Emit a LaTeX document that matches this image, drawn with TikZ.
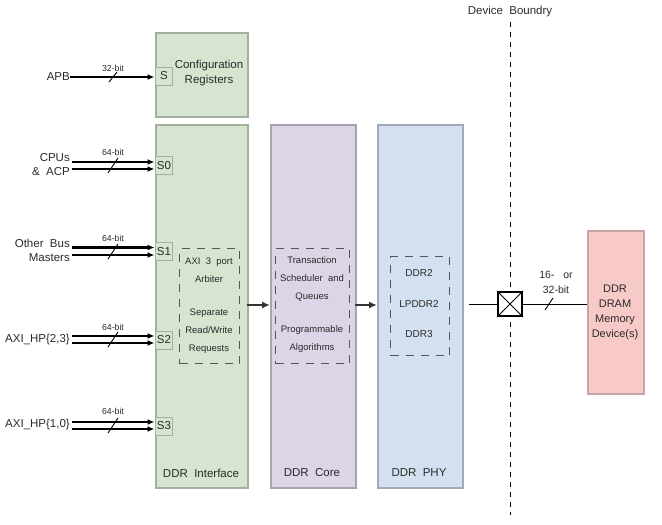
\documentclass[tikz,border=0pt]{standalone}
\usepackage{fontspec}
\setmainfont{Liberation Sans}
\usetikzlibrary{arrows.meta}
\definecolor{gfill}{HTML}{D6E4D0}\definecolor{gline}{HTML}{A2B19D}
\definecolor{pfill}{HTML}{DCD5E7}\definecolor{pline}{HTML}{AAA2B3}
\definecolor{bfill}{HTML}{D3E0EF}\definecolor{bline}{HTML}{A3AAB5}
\definecolor{rfill}{HTML}{F8CAC7}\definecolor{rline}{HTML}{C9A3A3}
\definecolor{txt}{HTML}{2A2A2A}
\tikzset{
  blk/.style={draw=#1, line width=1.6pt, anchor=north west, inner sep=0pt},
  port/.style={draw=gline, line width=1pt, fill=gfill, anchor=west, minimum width=17pt, minimum height=18pt, inner sep=0pt, font=\fontsize{11.5}{11}\selectfont, text=txt},
  bus/.style={line width=2.2pt, -{Latex[length=7pt,width=6pt]}, shorten >=0.5pt},
  lbl/.style={font=\fontsize{11.5}{14}\selectfont, text=txt, align=right, anchor=east, inner sep=0pt},
  bits/.style={font=\fontsize{8.7}{9}\selectfont, text=txt, inner sep=0pt},
  sl/.style={line width=0.9pt},
  inner/.style={draw=txt!80, line width=1.1pt, dash pattern=on 8pt off 7pt, anchor=north west, inner sep=0pt},
  itxt/.style={font=\fontsize{9.5}{18}\selectfont, text=txt, align=center, inner sep=0pt},
  title/.style={font=\fontsize{11.5}{12}\selectfont, text=txt, inner sep=0pt},
  conn/.style={line width=1.8pt, draw=black!80, -{Latex[length=8pt,width=7pt]}},
}
\begin{document}
\begin{tikzpicture}[x=1pt,y=-1pt]
\useasboundingbox (0,0) rectangle (662,525);
% main blocks
\node[blk=gline, fill=gfill, minimum width=92pt, minimum height=84pt] (cfg) at (155,32) {};
\node[blk=gline, fill=gfill, minimum width=92pt, minimum height=363pt] (ifc) at (155,124) {};
\node[blk=pline, fill=pfill, minimum width=85pt, minimum height=363pt] (core) at (270,124) {};
\node[blk=bline, fill=bfill, minimum width=85pt, minimum height=363pt] (phy) at (377,124) {};
\node[blk=rline, fill=rfill, minimum width=56pt, minimum height=163pt] (dram) at (587,230) {};
% texts
\node[align=center, font=\fontsize{11.5}{15}\selectfont, text=txt, inner sep=0pt] (cfgt) at (209,73) {Configuration\\Registers};
\node[title] (ifct) at (201,473) {DDR\ \ Interface};
\node[title] (coret) at (312,473) {DDR\ \ Core};
\node[title] (phyt) at (419,473) {DDR\ \ PHY};
\node[align=center, font=\fontsize{11}{15}\selectfont, text=txt, inner sep=0pt] (dramt) at (615,312) {DDR\\DRAM\\Memory\\Device(s)};
% inner dashed boxes
\node[inner, minimum width=60pt, minimum height=115pt] (ifcin) at (179,248) {};
\node[itxt] (ifcin1) at (209,270) {AXI\ \ 3\ \ port\\Arbiter};
\node[itxt] (ifcin2) at (209,331) {Separate\\Read/Write\\Requests};
\node[inner, minimum width=74pt, minimum height=115pt] (corein) at (275,248) {};
\node[itxt] (corein1) at (312,279) {Transaction\\Scheduler\ \ and\\Queues};
\node[itxt] (corein2) at (312,339) {Programmable\\Algorithms};
\node[inner, minimum width=59pt, minimum height=99pt] (phyin) at (390,256) {};
\node[font=\fontsize{10}{30.5}\selectfont, text=txt, align=center, inner sep=0pt] (phyint) at (419,304) {DDR2\\LPDDR2\\DDR3};
% ports
\node[port] (sP) at (155,76) {S};
\node[port] (s0) at (155,165.5) {S0};
\node[port] (s1) at (155,251.5) {S1};
\node[port] (s2) at (155,340) {S2};
\node[port] (s3) at (155,426) {S3};
% APB
\node[lbl] (apb) at (70,77) {APB};
\draw[bus] (apb.east) -- (apb.east -| sP.west);
\node[bits] (b0) at (113,68) {32-bit};
\draw[sl] (109,82) -- (117,72);
% CPUs
\node[lbl] (cpu) at (70,165) {CPUs\\\&\ \ ACP};
\coordinate (c0a) at (72,162); \coordinate (c0b) at (72,169);
\draw[bus] (c0a) -- (c0a -| s0.west);
\draw[bus] (c0b) -- (c0b -| s0.west);
\node[bits] (b1) at (113,152) {64-bit};
\draw[sl] (108,173) -- (118,158);
% Other bus masters
\node[lbl] (obm) at (70,250.5) {Other\ \ Bus\\Masters};
\coordinate (c1a) at (72,247.5); \coordinate (c1b) at (72,255);
\draw[bus] (c1a) -- (c1a -| s1.west);
\draw[bus] (c1b) -- (c1b -| s1.west);
\node[bits] (b2) at (113,238) {64-bit};
\draw[sl] (108,259) -- (118,244);
% AXI_HP{2,3}
\node[lbl] (hp23) at (70,340) {AXI\_HP\{2,3\}};
\coordinate (c2a) at (72,336); \coordinate (c2b) at (72,343);
\draw[bus] (c2a) -- (c2a -| s2.west);
\draw[bus] (c2b) -- (c2b -| s2.west);
\node[bits] (b3) at (113,327) {64-bit};
\draw[sl] (108,347) -- (118,332);
% AXI_HP{1,0}
\node[lbl] (hp10) at (70,425) {AXI\_HP\{1,0\}};
\coordinate (c3a) at (72,422); \coordinate (c3b) at (72,429);
\draw[bus] (c3a) -- (c3a -| s3.west);
\draw[bus] (c3b) -- (c3b -| s3.west);
\node[bits] (b4) at (113,411) {64-bit};
\draw[sl] (108,433) -- (118,418);
% block connectors
\coordinate (m1) at (247,305);
\draw[conn] (m1) -- (m1 -| core.west);
\coordinate (m2) at (355,305);
\draw[conn] (m2) -- (m2 -| phy.west);
% device boundary
\node[title] (dbt) at (510,12) {Device\ \ Boundry};
\coordinate (dbtop) at (510,22); \coordinate (dbbot) at (510,515);
\draw[line width=0.8pt, dash pattern=on 5pt off 5pt] (dbtop) -- (dbbot);
% crossed box
\node[draw, line width=2.2pt, fill=white, minimum width=24pt, minimum height=24pt, inner sep=0pt] (xb) at (510,304) {};
\draw[line width=0.8pt] (xb.north west) -- (xb.south east) (xb.north east) -- (xb.south west);
\coordinate (pl) at (469,304);
\draw[line width=1pt] (pl) -- (xb.west);
\draw[line width=1pt] (xb.east) -- (xb.east -| dram.west);
\draw[sl] (545,310) -- (553,298);
\node[align=center, font=\fontsize{10.5}{15}\selectfont, text=txt, inner sep=0pt] (bw) at (556,282) {16-\ \ \ or\\32-bit};
\end{tikzpicture}
\end{document}
